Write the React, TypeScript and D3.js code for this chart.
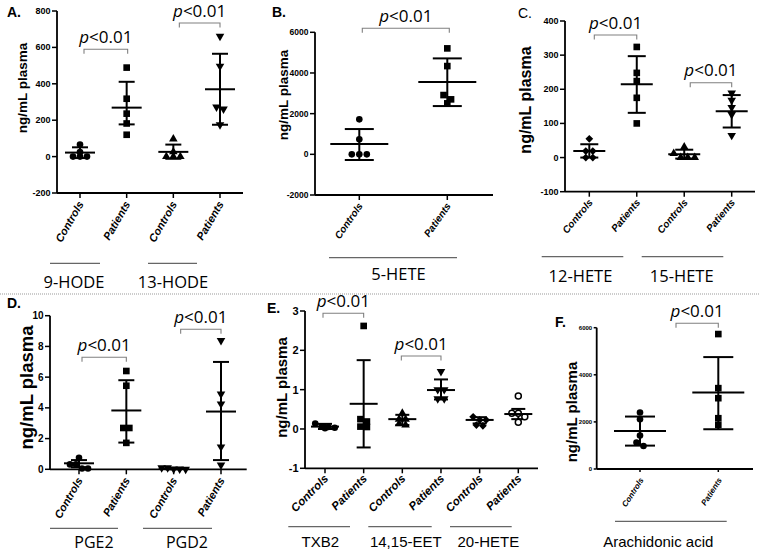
import React from "react";
import * as d3 from "d3";

// ---------------- DATA ----------------
const categories = ["Controls", "Patients"];

// Panel A: 9-HODE, 13-HODE
const groupsA = ["9-HODE", "13-HODE"];
const ticksA = [-200, 0, 200, 400, 600, 800];
const valuesA = [
  [66, 25, 0, 0, 0],
  [489, 318, 236, 182, 120],
  [97, 26, 0, 0, 0],
  [661, 497, 273, 262, 175],
];
const meansA = [22, 269, 26, 370];
const lowsA = [-8, 177, -12, 175];
const highsA = [51, 411, 66, 565];

// Panel B: 5-HETE
const groupsB = ["5-HETE"];
const ticksB = [-2000, 0, 2000, 4000, 6000];
const valuesB = [
  [1720, 737, 0, 0, 0],
  [5209, 4339, 2914, 2703, 2506],
];
const meansB = [506, 3553];
const lowsB = [-280, 2373];
const highsB = [1243, 4717];

// Panel C: 12-HETE, 15-HETE
const groupsC = ["12-HETE", "15-HETE"];
const ticksC = [-100, 0, 100, 200, 300, 400];
const valuesC = [
  [55, 19, 19, 0, 0],
  [324, 248, 224, 175, 100],
  [31, 12, 0, 0, 0],
  [189, 168, 147, 126, 65],
];
const meansC = [19, 215, 10, 136];
const lowsC = [0, 131, -3, 88];
const highsC = [39, 297, 23, 183];

// Panel D: PGE2, PGD2
const groupsD = ["PGE2", "PGD2"];
const ticksD = [0, 2, 4, 6, 8, 10];
const valuesD = [
  [0.75, 0.32, 0.32, 0.05, 0.05],
  [6.4, 5.44, 2.69, 2.69, 1.72],
  [0.1, 0.1, 0.02, 0.02, 0.0],
  [8.39, 4.9, 4.26, 1.46, 0.28],
];
const meansD = [0.39, 3.83, 0.05, 3.76];
const lowsD = [0.13, 1.74, 0.0, 0.6];
const highsD = [0.6, 5.8, 0.09, 6.99];

// Panel E: TXB2, 14,15-EET, 20-HETE
const groupsE = ["TXB2", "14,15-EET", "20-HETE"];
const ticksE = [-1, 0, 1, 2, 3];
const valuesE = [
  [0.14, 0.06, 0.05, 0.03, 0.02],
  [2.62, 0.25, 0.19, 0.06, 0.05],
  [0.4, 0.25, 0.25, 0.13, 0.1],
  [1.46, 1.0, 1.0, 0.77, 0.77],
  [0.31, 0.23, 0.23, 0.1, 0.08],
  [0.84, 0.4, 0.4, 0.31, 0.17],
];
const meansE = [0.06, 0.64, 0.25, 0.99, 0.23, 0.38];
const lowsE = [0.0, -0.47, 0.1, 0.75, 0.14, 0.25];
const highsE = [0.13, 1.75, 0.36, 1.26, 0.3, 0.51];

// Panel F: Arachidonic acid
const groupsF = ["Arachidonic acid"];
const ticksF = [0, 2000, 4000, 6000];
const valuesF = [
  [2397, 2113, 1418, 1120, 979],
  [5730, 3433, 3007, 2156, 1872],
];
const meansF = [1617, 3248];
const lowsF = [993, 1688];
const highsF = [2227, 4752];

const pLabel = "<0.01";
const yTitle = "ng/mL plasma";

// ---------------- LAYOUT ----------------
type Shape = "circle" | "square" | "diamond" | "triUp" | "triDown" | "circleOpen";
interface Bracket { a: number; b: number; dx1: number; dx2: number; y: number }
interface Panel {
  letter: string; lx: number; ly: number; lbold: boolean;
  domain: [number, number]; range: [number, number]; ticks: number[];
  axisX: number; axisEnd: number; catRange: [number, number];
  values: number[][]; means: number[]; lows: number[]; highs: number[];
  shapes: Shape[]; groups: string[]; groupX: number[]; groupY: number;
  groupFont: string; groupSize: number;
  underlines: [number, number][]; underlineY: number;
  brackets: Bracket[];
  tickFont: number; tickLen: number; catFont: number; catAngle: number;
  ylx: number; yly: number; ylFont: number;
  meanHalf: number; capHalf: number; jit: number;
}

const OPEN = "'Open Sans', sans-serif";
const LIB = "'Liberation Sans', Arial, sans-serif";

const panels: Panel[] = [
  {
    letter: "A.", lx: 7, ly: 17, lbold: true,
    domain: [-200, 800], range: [193, 11], ticks: ticksA,
    axisX: 57, axisEnd: 243, catRange: [80, 220],
    values: valuesA, means: meansA, lows: lowsA, highs: highsA,
    shapes: ["circle", "square", "triUp", "triDown"],
    groups: groupsA, groupX: [74, 173], groupY: 287.5, groupFont: OPEN, groupSize: 16.5,
    underlines: [[50, 100], [148, 197]], underlineY: 263.3,
    brackets: [{ a: 0, b: 1, dx1: 4, dx2: 1, y: 49.3 }, { a: 2, b: 3, dx1: 6, dx2: 0, y: 23 }],
    tickFont: 9, tickLen: 5, catFont: 11, catAngle: 60,
    ylx: 22, yly: 88, ylFont: 13.5, meanHalf: 15, capHalf: 8, jit: 7,
  },
  {
    letter: "B.", lx: 272, ly: 16.5, lbold: true,
    domain: [-2000, 6000], range: [195, 32.3], ticks: ticksB,
    axisX: 315, axisEnd: 493, catRange: [359.3, 447.3],
    values: valuesB, means: meansB, lows: lowsB, highs: highsB,
    shapes: ["circle", "square"],
    groups: groupsB, groupX: [398.5], groupY: 280, groupFont: OPEN, groupSize: 16.5,
    underlines: [[329, 457]], underlineY: 257.7,
    brackets: [{ a: 0, b: 1, dx1: 3, dx2: 2, y: 28.3 }],
    tickFont: 8.5, tickLen: 5, catFont: 10, catAngle: 55,
    ylx: 283, yly: 95, ylFont: 13.5, meanHalf: 29, capHalf: 14.5, jit: 7.5,
  },
  {
    letter: "C.", lx: 518, ly: 18, lbold: false,
    domain: [-100, 400], range: [191.7, 21], ticks: ticksC,
    axisX: 565, axisEnd: 755, catRange: [589.3, 731.7],
    values: valuesC, means: meansC, lows: lowsC, highs: highsC,
    shapes: ["diamond", "square", "triUp", "triDown"],
    groups: groupsC, groupX: [580.5, 681.7], groupY: 282, groupFont: OPEN, groupSize: 16.5,
    underlines: [[541.7, 623.3], [641.7, 723.3]], underlineY: 256.7,
    brackets: [{ a: 0, b: 1, dx1: 5, dx2: 0, y: 35 }, { a: 2, b: 3, dx1: 6, dx2: 0, y: 82.7 }],
    tickFont: 9, tickLen: 5, catFont: 10, catAngle: 50,
    ylx: 525, yly: 100, ylFont: 16, meanHalf: 16, capHalf: 9, jit: 7,
  },
  {
    letter: "D.", lx: 7, ly: 308, lbold: true,
    domain: [0, 10], range: [469.3, 315.7], ticks: ticksD,
    axisX: 50, axisEnd: 246.7, catRange: [79, 221],
    values: valuesD, means: meansD, lows: lowsD, highs: highsD,
    shapes: ["circle", "square", "triDown", "triDown"],
    groups: groupsD, groupX: [94, 187], groupY: 548, groupFont: OPEN, groupSize: 16,
    underlines: [[50, 118], [143, 212]], underlineY: 528.3,
    brackets: [{ a: 0, b: 1, dx1: 3, dx2: 0, y: 357.3 }, { a: 2, b: 3, dx1: 7, dx2: 0, y: 329.3 }],
    tickFont: 10, tickLen: 5, catFont: 11, catAngle: 60,
    ylx: 26.7, yly: 387.5, ylFont: 18.5, meanHalf: 15, capHalf: 8, jit: 6,
  },
  {
    letter: "E.", lx: 267, ly: 313, lbold: true,
    domain: [-1, 3], range: [468.3, 311], ticks: ticksE,
    axisX: 305, axisEnd: 538, catRange: [325, 518.3],
    values: valuesE, means: meansE, lows: lowsE, highs: highsE,
    shapes: ["circle", "square", "triUp", "triDown", "diamond", "circleOpen"],
    groups: groupsE, groupX: [320.3, 405.8, 488.3], groupY: 547, groupFont: LIB, groupSize: 15,
    underlines: [[288.3, 350], [368.3, 431.7], [450, 511.7]], underlineY: 526.7,
    brackets: [{ a: 0, b: 1, dx1: -2, dx2: 0, y: 313.3 }, { a: 2, b: 3, dx1: -1, dx2: 0, y: 356 }],
    tickFont: 11, tickLen: 5, catFont: 11.5, catAngle: 45,
    ylx: 281.7, yly: 387.5, ylFont: 15, meanHalf: 14, capHalf: 7, jit: 6.5,
  },
  {
    letter: "F.", lx: 555, ly: 327, lbold: true,
    domain: [0, 6000], range: [469, 327.7], ticks: ticksF,
    axisX: 596.7, axisEnd: 753, catRange: [640, 718.3],
    values: valuesF, means: meansF, lows: lowsF, highs: highsF,
    shapes: ["circle", "square"],
    groups: groupsF, groupX: [658.3], groupY: 546.7, groupFont: LIB, groupSize: 15,
    underlines: [[615, 726.7]], underlineY: 521.3,
    brackets: [{ a: 0, b: 1, dx1: 36, dx2: 0, y: 323.3 }],
    tickFont: 6, tickLen: 3, catFont: 8, catAngle: 57,
    ylx: 571.7, yly: 412, ylFont: 15, meanHalf: 26, capHalf: 15, jit: 7,
  },
];

// ---------------- HELPERS ----------------
function jitter(vals: number[], y: (v: number) => number, step: number): number[] {
  const idx = vals.map((_, i) => i).sort((a, b) => vals[b] - vals[a]);
  const offsets = new Array(vals.length).fill(0);
  let cluster: number[] = [];
  const flush = () => {
    const k = cluster.length;
    cluster.forEach((i, j) => (offsets[i] = (j - (k - 1) / 2) * step));
    cluster = [];
  };
  for (const i of idx) {
    if (cluster.length && Math.abs(y(vals[i]) - y(vals[cluster[0]])) > 4.5) flush();
    cluster.push(i);
  }
  flush();
  return offsets;
}

function Marker({ shape, x, y }: { shape: Shape; x: number; y: number }) {
  if (shape === "circle") return <circle cx={x} cy={y} r={3.3} fill="#000" />;
  if (shape === "circleOpen")
    return <circle cx={x} cy={y} r={3} fill="#fff" stroke="#000" strokeWidth={1.5} />;
  if (shape === "square")
    return <path d={d3.symbol().type(d3.symbolSquare).size(44)() || ""} transform={`translate(${x},${y})`} fill="#000" />;
  if (shape === "diamond")
    return <path d={d3.symbol().type(d3.symbolSquare).size(30)() || ""} transform={`translate(${x},${y}) rotate(45)`} fill="#000" />;
  const tri = d3.symbol().type(d3.symbolTriangle).size(32)() || "";
  return <path d={tri} transform={`translate(${x},${y})${shape === "triDown" ? " rotate(180)" : ""}`} fill="#000" />;
}

function PanelView({ p }: { p: Panel }) {
  const y = d3.scaleLinear().domain(p.domain).range(p.range);
  const nCats = p.values.length;
  const x = d3.scalePoint<number>().domain(d3.range(nCats)).range(p.catRange);
  const baseY = p.range[0];
  return (
    <g>
      <text x={p.lx} y={p.ly} fontFamily={LIB} fontWeight={p.lbold ? "bold" : "normal"} fontSize={14}>
        {p.letter}
      </text>
      <text
        transform={`translate(${p.ylx},${p.yly}) rotate(-90)`}
        textAnchor="middle"
        dominantBaseline="central"
        fontFamily={LIB}
        fontWeight="bold"
        fontSize={p.ylFont}
      >
        {yTitle}
      </text>
      <line x1={p.axisX} x2={p.axisX} y1={p.range[1]} y2={baseY} stroke="#000" strokeWidth={1.8} />
      <line x1={p.axisX} x2={p.axisEnd} y1={baseY} y2={baseY} stroke="#000" strokeWidth={1.8} />
      {p.ticks.map((t) => (
        <g key={t}>
          <line x1={p.axisX - p.tickLen} x2={p.axisX} y1={y(t)} y2={y(t)} stroke="#000" strokeWidth={1.5} />
          <text
            x={p.axisX - p.tickLen - 1.5}
            y={y(t)}
            textAnchor="end"
            dominantBaseline="central"
            fontFamily="'Liberation Sans Narrow', 'Liberation Sans', Arial, sans-serif"
            fontWeight="bold"
            fontSize={p.tickFont}
          >
            {t}
          </text>
        </g>
      ))}
      {d3.range(nCats).map((i) => {
        const cx = x(i) as number;
        return (
          <g key={"c" + i}>
            <line x1={cx} x2={cx} y1={baseY} y2={baseY + p.tickLen} stroke="#000" strokeWidth={1.5} />
            <text
              transform={`translate(${cx + 4},${baseY + 11}) rotate(${-p.catAngle})`}
              textAnchor="end"
              fontFamily={LIB}
              fontWeight="bold"
              fontStyle="italic"
              fontSize={p.catFont}
            >
              {categories[i % 2]}
            </text>
          </g>
        );
      })}
      {p.underlines.map((u, i) => (
        <line key={"u" + i} x1={u[0]} x2={u[1]} y1={p.underlineY} y2={p.underlineY} stroke="#666" strokeWidth={1.2} />
      ))}
      {p.groups.map((g, i) => (
        <text key={"g" + i} x={p.groupX[i]} y={p.groupY} textAnchor="middle" fontFamily={p.groupFont} fontSize={p.groupSize}>
          {g}
        </text>
      ))}
      {p.values.map((vals, gi) => {
        const cx = x(gi) as number;
        const offs = jitter(vals, (v) => y(v), p.jit);
        return (
          <g key={"d" + gi}>
            <line x1={cx} x2={cx} y1={y(p.lows[gi])} y2={y(p.highs[gi])} stroke="#000" strokeWidth={2} />
            <line x1={cx - p.capHalf} x2={cx + p.capHalf} y1={y(p.lows[gi])} y2={y(p.lows[gi])} stroke="#000" strokeWidth={2} />
            <line x1={cx - p.capHalf} x2={cx + p.capHalf} y1={y(p.highs[gi])} y2={y(p.highs[gi])} stroke="#000" strokeWidth={2} />
            {vals.map((v, vi) => (
              <Marker key={vi} shape={p.shapes[gi]} x={cx + offs[vi]} y={y(v)} />
            ))}
            <line x1={cx - p.meanHalf} x2={cx + p.meanHalf} y1={y(p.means[gi])} y2={y(p.means[gi])} stroke="#000" strokeWidth={2} />
          </g>
        );
      })}
      {p.brackets.map((b, i) => {
        const x1 = (x(b.a) as number) + b.dx1;
        const x2 = (x(b.b) as number) + b.dx2;
        return (
          <g key={"b" + i}>
            <path d={`M${x1},${b.y + 4.5}V${b.y}H${x2}V${b.y + 4.5}`} fill="none" stroke="#808080" strokeWidth={1.1} />
            <text x={(x1 + x2) / 2} y={b.y - 6.5} textAnchor="middle" fontFamily={OPEN} fontSize={17}>
              <tspan fontStyle="italic">p</tspan>
              {pLabel}
            </text>
          </g>
        );
      })}
    </g>
  );
}

export default function App() {
  return (
    <svg
      width={760}
      height={553}
      viewBox="0 0 760 553"
      style={{ position: "absolute", left: 0, top: 0, background: "#fff" }}
    >
      <rect width={760} height={553} fill="#fff" />
      <line x1={0} x2={760} y1={294} y2={294} stroke="#999" strokeWidth={1} strokeDasharray="1,1" />
      {panels.map((p) => (
        <PanelView key={p.letter} p={p} />
      ))}
    </svg>
  );
}
